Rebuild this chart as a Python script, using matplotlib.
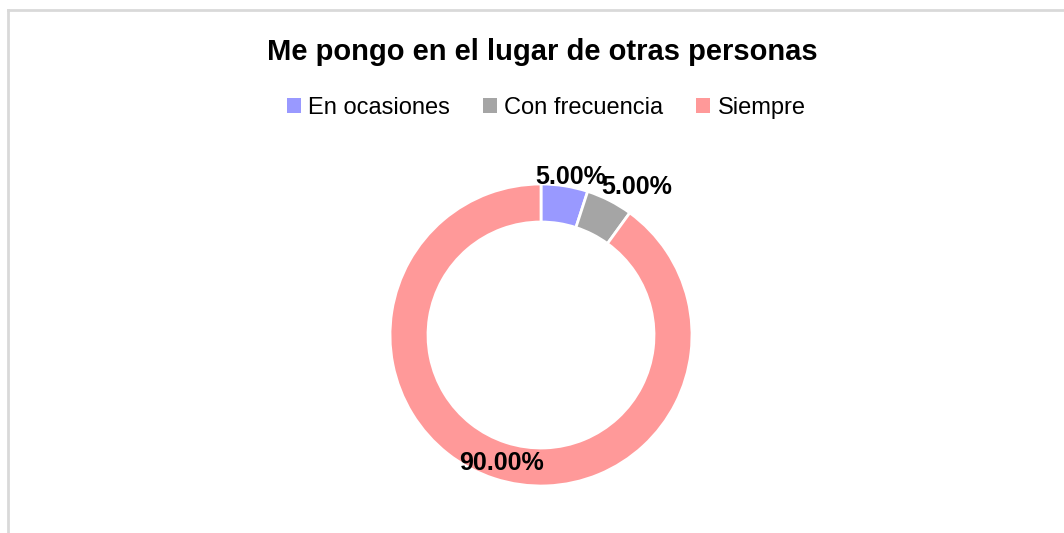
import matplotlib.pyplot as plt
from matplotlib.lines import Line2D
from matplotlib.patches import Patch

plt.rcParams['font.family'] = ['Liberation Sans', 'DejaVu Sans']

# datos
categorias = ["En ocasiones", "Con frecuencia", "Siempre"]
porcentajes = [5.0, 5.0, 90.0]
colores = ["#9999FF", "#A5A5A5", "#FF9999"]

W, H = 1064, 533
fig = plt.figure(figsize=(W / 100, H / 100), dpi=100)

# marco gris claro (solo arriba e izquierda visibles)
fig.add_artist(Line2D([8 / W, 8 / W], [0, 1 - 10 / H], color="#D9D9D9", lw=2))
fig.add_artist(Line2D([8 / W, 1], [1 - 10 / H, 1 - 10 / H], color="#D9D9D9", lw=2))

# eje del donut: centro (541, 335), radio 151 px
r = 151
ax = fig.add_axes([(541 - r) / W, (H - 335 - r) / H, 2 * r / W, 2 * r / H])
wedges, _ = ax.pie(porcentajes, colors=colores, startangle=90, counterclock=False,
                   radius=1.0, wedgeprops=dict(width=38 / 151, edgecolor="white", linewidth=2))
ax.set_xlim(-1, 1)
ax.set_ylim(-1, 1)
ax.set_aspect("equal")
ax.axis("off")

# etiquetas de porcentaje (posiciones en pixeles del original)
pos_etiquetas = [(571, 177), (637, 187), (502, 463)]
for (px, py), v in zip(pos_etiquetas, porcentajes):
    fig.text(px / W, 1 - py / H, f"{v:.2f}%", ha="center", va="center",
             fontsize=18, fontweight="bold", color="black")

fig.text(542 / W, 1 - 52 / H, "Me pongo en el lugar de otras personas",
         ha="center", va="center", fontsize=21, fontweight="bold")

handles = [Patch(facecolor=c, edgecolor="none") for c in colores]
fig.legend(handles, categorias, loc="center", bbox_to_anchor=(546 / W, 1 - 108 / H),
           ncol=3, frameon=False, fontsize=17, handlelength=0.6, handleheight=0.6,
           handletextpad=0.3, columnspacing=1.4)

fig.savefig("out.png", dpi=100, facecolor="white")
